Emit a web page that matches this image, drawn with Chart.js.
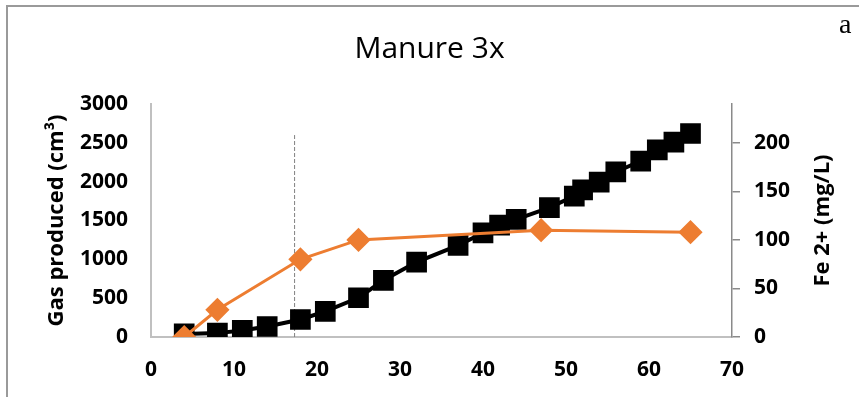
<!DOCTYPE html>
<html lang="en">
<head>
    <meta charset="UTF-8">
    <title>Manure 3x</title>
    <script src="https://cdn.jsdelivr.net/npm/chart.js"></script>
    <style>
        html, body { margin: 0; padding: 0; background: #fff; }
        #wrap { position: relative; width: 859px; height: 397px; overflow: hidden; }
        #frame {
            position: absolute; left: 6px; top: 5px; right: -10px; bottom: -10px;
            border-left: 2px solid #9a9a9a; border-top: 2px solid #9a9a9a;
        }
        #tag {
            position: absolute; left: 839px; top: 9px; line-height: 1.1;
            font-family: "Liberation Serif", "DejaVu Serif", serif; font-size: 28px; color: #000;
        }
        canvas { position: absolute; left: 0; top: 0; }
    </style>
</head>
<body>
<div id="wrap">
    <div id="frame"></div>
    <canvas id="myChart" width="859" height="397"></canvas>
    <div id="tag">a</div>
</div>

<script>
    // gas produced (left axis)
    const gasDays = [4, 8, 11, 14, 18, 21, 25, 28, 32, 37, 40, 42, 44, 48, 51, 52, 54, 56, 59, 61, 63, 65];
    const gasVolume = [40, 50, 85, 135, 225, 330, 505, 730, 965, 1180, 1340, 1440, 1515, 1665, 1815, 1895, 1995, 2125, 2265, 2410, 2510, 2620];

    // Fe 2+ (right axis)
    const feDays = [4, 8, 18, 25, 47, 65];
    const feConc = [0, 28, 80, 100, 110, 108];

    // dashed marker line
    const markerDay = 17.3;
    const markerTop = 2600;

    const xTicks = { min: 0, max: 70, step: 10 };
    const leftTicks = { min: 0, max: 3000, step: 500 };
    const rightTicks = { min: 0, max: 240, step: 50 };

    const tickFont = { family: "'Open Sans', sans-serif", size: 21, weight: 'bold' };
    const titleFont = { family: "'Open Sans', sans-serif", size: 22, weight: 'bold' };

    const toPoints = (xs, ys) => xs.map((x, i) => ({ x: x, y: ys[i] }));
    const plain = v => String(v);

    // right axis title reads bottom-to-top like the left one
    const rightTitle = {
        id: 'rightTitle',
        afterDraw(chart) {
            const { ctx, chartArea } = chart;
            const s = chart.scales.y1;
            ctx.save();
            ctx.translate(s.right - 36, (chartArea.top + chartArea.bottom) / 2);
            ctx.rotate(-Math.PI / 2);
            ctx.font = "bold 22px 'Open Sans', sans-serif";
            ctx.fillStyle = '#000';
            ctx.textAlign = 'center';
            ctx.textBaseline = 'middle';
            ctx.fillText('Fe 2+ (mg/L)', 0, 0);
            ctx.restore();
        }
    };

    const ctx = document.getElementById('myChart').getContext('2d');
    new Chart(ctx, {
        type: 'line',
        data: {
            datasets: [
                {
                    label: 'Fe 2+',
                    data: toPoints(feDays, feConc),
                    yAxisID: 'y1',
                    borderColor: '#ED7D31',
                    backgroundColor: '#ED7D31',
                    borderWidth: 3,
                    pointStyle: 'rectRot',
                    pointRadius: 10,
                    pointHoverRadius: 10,
                    fill: false,
                    tension: 0,
                    order: 0
                },
                {
                    label: 'Gas produced',
                    data: toPoints(gasDays, gasVolume),
                    yAxisID: 'y',
                    borderColor: '#000',
                    backgroundColor: '#000',
                    borderWidth: 4,
                    pointStyle: 'rect',
                    pointRadius: 11.8,
                    pointHoverRadius: 11.8,
                    fill: false,
                    tension: 0,
                    order: 1
                },
                {
                    label: 'marker',
                    data: [{ x: markerDay, y: 0 }, { x: markerDay, y: markerTop }],
                    yAxisID: 'y',
                    borderColor: '#808080',
                    borderWidth: 1,
                    borderDash: [4, 2],
                    pointRadius: 0,
                    fill: false,
                    order: 2
                }
            ]
        },
        options: {
            responsive: false,
            animation: false,
            layout: { padding: 0 },
            plugins: {
                legend: { display: false },
                tooltip: { enabled: false },
                title: {
                    display: true,
                    text: 'Manure 3x',
                    color: '#000',
                    font: { family: "'Open Sans', sans-serif", size: 30, weight: 'normal', lineHeight: 1.2 },
                    padding: { top: 31, bottom: 37 }
                }
            },
            scales: {
                x: {
                    type: 'linear',
                    min: xTicks.min, max: xTicks.max,
                    grid: { display: false, drawTicks: false },
                    border: { display: true, color: '#c0c0c0', width: 2 },
                    ticks: { stepSize: xTicks.step, color: '#000', font: tickFont, padding: 20, maxRotation: 0, callback: plain },
                    afterFit: s => { s.height = 60; }
                },
                y: {
                    position: 'left',
                    min: leftTicks.min, max: leftTicks.max,
                    grid: { display: false, drawTicks: false },
                    border: { display: true, color: '#c0c0c0', width: 2 },
                    ticks: { stepSize: leftTicks.step, color: '#000', font: tickFont, padding: 23, callback: plain },
                    title: { display: true, text: 'Gas produced (cm³)', color: '#000', font: titleFont, padding: { top: 44, bottom: 0 } },
                    afterFit: s => { s.width = 151; }
                },
                y1: {
                    position: 'right',
                    min: rightTicks.min, max: rightTicks.max,
                    grid: { display: true, drawOnChartArea: false, drawTicks: true, tickLength: 8, color: '#8a8a8a', lineWidth: 1.5 },
                    border: { display: true, color: '#8a8a8a', width: 1.5 },
                    ticks: { stepSize: rightTicks.step, includeBounds: false, color: '#000', font: tickFont, padding: 14, callback: plain },
                    afterFit: s => { s.width = 127; }
                }
            }
        },
        plugins: [rightTitle]
    });
</script>
</body>
</html>
